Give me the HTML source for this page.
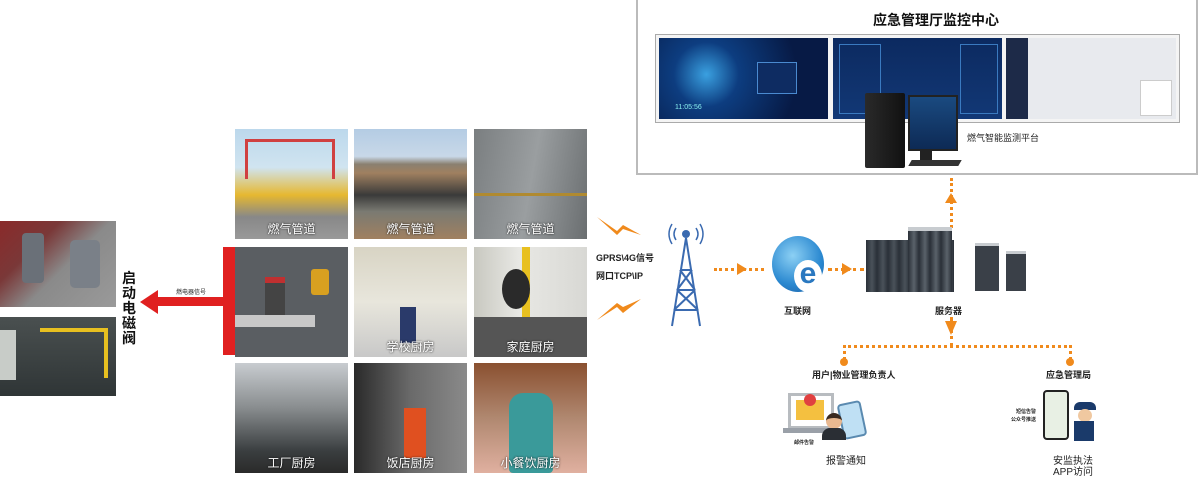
<!DOCTYPE html>
<html><head><meta charset="utf-8">
<style>
*{margin:0;padding:0;box-sizing:border-box}
body{width:1200px;height:473px;background:#fff;position:relative;overflow:hidden;font-family:"Liberation Sans","Noto Sans CJK SC",sans-serif}
.a{position:absolute}
.tile{position:absolute;width:113px;height:110px;overflow:hidden}
.cap{position:absolute;left:0;right:0;bottom:2px;text-align:center;color:#fff;font-size:12px;text-shadow:0 0 2px #000}
.t{position:absolute;font-size:10px;color:#222;white-space:nowrap}
.dot{position:absolute;border-top:3px dotted #f08a1c}
.vdot{position:absolute;border-left:3px dotted #f08a1c}
</style></head><body>

<!-- monitoring centre box -->
<div class="a" style="left:636px;top:0;width:562px;height:175px;border:2px solid #bbb;border-top:none"></div>
<div class="t" style="left:873px;top:10px;font-size:14px;font-weight:bold;color:#111">应急管理厅监控中心</div>
<div class="a" style="left:655px;top:34px;width:525px;height:89px;border:1px solid #aaa;background:#f4f4f4"></div>
<div class="a" style="left:659px;top:38px;width:169px;height:81px;background:radial-gradient(circle at 28% 45%,#3aa0e0 0,#0d3d80 25%,#071a45 70%)"></div>
<div class="a" style="left:757px;top:62px;width:40px;height:32px;border:1px solid #4a8ad0;background:#0e2c62"></div>
<div class="t" style="left:675px;top:104px;color:#8ee;font-size:7px">11:05:56</div>
<div class="a" style="left:833px;top:38px;width:169px;height:81px;background:linear-gradient(#0c2a60,#123876)"></div>
<div class="a" style="left:839px;top:44px;width:42px;height:70px;border:1px solid #3a7ac0"></div>
<div class="a" style="left:960px;top:44px;width:38px;height:70px;border:1px solid #3a7ac0"></div>
<div class="a" style="left:1006px;top:38px;width:170px;height:81px;background:#e8eaee"></div>
<div class="a" style="left:1006px;top:38px;width:22px;height:81px;background:#1d2a48"></div>
<div class="a" style="left:1140px;top:80px;width:32px;height:36px;background:#fff;border:1px solid #ccc"></div>
<!-- computer -->
<div class="a" style="left:908px;top:95px;width:50px;height:56px;background:linear-gradient(#1a4a80,#0d2a55);border:2px solid #222"></div>
<div class="a" style="left:920px;top:150px;width:12px;height:12px;background:#222"></div>
<div class="a" style="left:910px;top:160px;width:50px;height:6px;background:#333;transform:skewX(-30deg)"></div>
<div class="a" style="left:865px;top:93px;width:40px;height:75px;background:linear-gradient(90deg,#2a2a2a,#111);border-radius:2px"></div>
<div class="t" style="left:967px;top:131px;font-size:9px">燃气智能监测平台</div>

<!-- up arrow -->
<div class="vdot" style="left:950px;top:178px;height:50px"></div>
<div class="a" style="left:945px;top:193px;width:0;height:0;border-left:6px solid transparent;border-right:6px solid transparent;border-bottom:10px solid #f08a1c"></div>

<!-- left photos -->
<div class="a" style="left:0;top:221px;width:116px;height:86px;background:linear-gradient(135deg,#8a2a2a 0,#7a3838 30%,#8a8a8a 55%,#9a9a9a 100%)"></div>
<div class="a" style="left:22px;top:233px;width:22px;height:50px;background:#6a7078;border-radius:4px"></div>
<div class="a" style="left:70px;top:240px;width:30px;height:48px;background:#7a8088;border-radius:5px"></div>
<div class="a" style="left:0;top:317px;width:116px;height:79px;background:linear-gradient(#4a5050,#2f3536)"></div>
<div class="a" style="left:40px;top:328px;width:68px;height:50px;border:4px solid #e8c020;border-left:none;border-bottom:none"></div>
<div class="a" style="left:0;top:330px;width:16px;height:50px;background:#c8ccc8"></div>

<div class="a" style="left:122px;top:271px;width:16px;font-size:14px;font-weight:bold;line-height:15px;color:#111">启动电磁阀</div>
<!-- red arrow -->
<div class="a" style="left:155px;top:297px;width:70px;height:9px;background:#e02020"></div>
<div class="a" style="left:140px;top:290px;width:0;height:0;border-top:12px solid transparent;border-bottom:12px solid transparent;border-right:18px solid #e02020"></div>
<div class="t" style="left:176px;top:287px;font-size:6px">燃电器信号</div>
<div class="a" style="left:223px;top:247px;width:12px;height:108px;background:#e02020"></div>

<!-- tiles -->
<div class="tile" style="left:235px;top:129px;background:linear-gradient(#bcd8ec 0,#d0e4f0 35%,#e6b830 60%,#888 80%,#999 100%)">
 <div class="a" style="left:10px;top:10px;width:90px;height:40px;border:3px solid #d04040;border-bottom:none"></div>
 <div class="cap">燃气管道</div></div>
<div class="tile" style="left:354px;top:129px;background:linear-gradient(#b4cce4 0,#c8d8e8 25%,#8a8070 32%,#a08060 40%,#3a3a3a 60%,#7a7a72 75%,#a08060 100%)"><div class="cap">燃气管道</div></div>
<div class="tile" style="left:474px;top:129px;background:linear-gradient(100deg,#7a7e80,#9a9ea0 50%,#6a6e70)">
 <div class="a" style="left:0;top:64px;width:113px;height:3px;background:#b08a30"></div>
 <div class="cap">燃气管道</div></div>

<div class="tile" style="left:235px;top:247px;background:#5a5e62">
 <div class="a" style="left:0;top:68px;width:80px;height:12px;background:#c8c8c8"></div>
 <div class="a" style="left:30px;top:30px;width:20px;height:38px;background:#444;border-top:6px solid #c03030"></div>
 <div class="a" style="left:76px;top:22px;width:18px;height:26px;background:#d8a020;border-radius:3px"></div>
</div>
<div class="tile" style="left:354px;top:247px;background:linear-gradient(#d8d4c4,#e8e6dc 50%,#c8c8c8)">
 <div class="a" style="left:46px;top:60px;width:16px;height:36px;background:#2a3a6a"></div>
 <div class="cap">学校厨房</div></div>
<div class="tile" style="left:474px;top:247px;background:linear-gradient(90deg,#c8c8c0,#e8e8e4 40%,#d8d8d4)">
 <div class="a" style="left:48px;top:0;width:8px;height:90px;background:#e8c020"></div>
 <div class="a" style="left:28px;top:22px;width:28px;height:40px;background:#2a2a2a;border-radius:50%"></div>
 <div class="a" style="left:0;top:70px;width:113px;height:40px;background:#555"></div>
 <div class="cap">家庭厨房</div></div>

<div class="tile" style="left:235px;top:363px;background:linear-gradient(#c8ccd0,#8a8e90 40%,#3a3e40 80%,#2a2a2a)"><div class="cap">工厂厨房</div></div>
<div class="tile" style="left:354px;top:363px;background:linear-gradient(90deg,#2a2a2a,#6a6a6a 50%,#8a8a8a)">
 <div class="a" style="left:50px;top:45px;width:22px;height:50px;background:#e05020"></div>
 <div class="cap">饭店厨房</div></div>
<div class="tile" style="left:474px;top:363px;background:linear-gradient(#8a5030,#b08870 50%,#e0b0a0)">
 <div class="a" style="left:35px;top:30px;width:44px;height:80px;background:#3a9a9a;border-radius:14px 14px 4px 4px"></div>
 <div class="cap">小餐饮厨房</div></div>

<!-- lightning -->
<svg class="a" style="left:595px;top:215px" width="50" height="110" viewBox="0 0 50 110">
 <path d="M2 2 L22 16 L28 10 L46 20 L28 14 L22 20 Z" fill="#f08a1c"/>
 <path d="M2 105 L22 92 L28 98 L46 84 L28 92 L22 88 Z" fill="#f08a1c"/>
</svg>
<div class="t" style="left:596px;top:251px;font-size:9px;font-weight:bold">GPRS\4G信号</div>
<div class="t" style="left:596px;top:269px;font-size:9px;font-weight:bold">网口TCP\IP</div>

<!-- tower -->
<svg class="a" style="left:660px;top:220px" width="52" height="110" viewBox="0 0 52 110">
 <g stroke="#3a6ab0" stroke-width="2" fill="none">
 <path d="M26 18 L12 106 M26 18 L40 106 M17 70 L35 70 M20 50 L32 50 M14 90 L38 90 M17 70 L38 90 M35 70 L14 90 M20 50 L35 70 M32 50 L17 70"/>
 <path d="M16 8 Q12 14 16 20 M36 8 Q40 14 36 20 M12 4 Q6 14 12 24 M40 4 Q46 14 40 24" stroke-width="1.5"/>
 </g>
 <circle cx="26" cy="14" r="4" fill="#3a6ab0"/>
</svg>

<div class="dot" style="left:714px;top:268px;width:50px"></div>
<div class="a" style="left:737px;top:263px;border-top:6px solid transparent;border-bottom:6px solid transparent;border-left:10px solid #f08a1c"></div>
<!-- globe -->
<div class="a" style="left:772px;top:236px;width:52px;height:56px;border-radius:50%;background:radial-gradient(circle at 40% 35%,#8cd0f4,#2a88d0 60%,#1a5aa0)"></div>
<div class="a" style="left:794px;top:260px;width:28px;height:32px;border-radius:50%;background:#fff;color:#2a78c0;font-size:30px;font-weight:bold;line-height:28px;text-align:center">e</div>
<div class="t" style="left:784px;top:304px;font-size:9px;font-weight:bold">互联网</div>
<div class="dot" style="left:828px;top:268px;width:36px"></div>
<div class="a" style="left:842px;top:263px;border-top:6px solid transparent;border-bottom:6px solid transparent;border-left:10px solid #f08a1c"></div>

<!-- servers -->
<div class="a" style="left:866px;top:240px;width:88px;height:52px;background:repeating-linear-gradient(90deg,#2a3038 0,#4a525a 6px,#2a3038 11px)"></div>
<div class="a" style="left:908px;top:227px;width:44px;height:65px;background:repeating-linear-gradient(90deg,#2a3038 0,#5a626a 6px,#2a3038 11px);border-top:4px solid #c8ccd0"></div>
<div class="a" style="left:975px;top:243px;width:24px;height:48px;background:#3a4048;border-top:3px solid #c8ccd0"></div>
<div class="a" style="left:1006px;top:251px;width:20px;height:40px;background:#3a4048;border-top:3px solid #c8ccd0"></div>
<div class="t" style="left:935px;top:304px;font-size:9px;font-weight:bold">服务器</div>

<div class="vdot" style="left:950px;top:317px;height:30px"></div>
<div class="a" style="left:945px;top:321px;border-left:6px solid transparent;border-right:6px solid transparent;border-top:14px solid #f08a1c"></div>
<div class="dot" style="left:843px;top:345px;width:229px"></div>
<div class="vdot" style="left:843px;top:345px;height:15px"></div>
<div class="vdot" style="left:1069px;top:345px;height:15px"></div>
<div class="a" style="left:840px;top:358px;width:8px;height:8px;border-radius:50%;background:#f08a1c"></div>
<div class="a" style="left:1066px;top:358px;width:8px;height:8px;border-radius:50%;background:#f08a1c"></div>
<div class="t" style="left:812px;top:368px;font-size:9px;font-weight:bold">用户|物业管理负责人</div>
<div class="t" style="left:1046px;top:368px;font-size:9px;font-weight:bold">应急管理局</div>

<!-- laptop icon -->
<div class="a" style="left:788px;top:393px;width:46px;height:36px;border:3px solid #b8bcc0;background:#fff"></div>
<div class="a" style="left:783px;top:428px;width:58px;height:5px;background:#9aa0a8"></div>
<div class="a" style="left:796px;top:400px;width:28px;height:20px;background:#f4c040"></div>
<div class="a" style="left:804px;top:394px;width:12px;height:12px;border-radius:50%;background:#e04040"></div>
<div class="a" style="left:840px;top:402px;width:24px;height:36px;border-radius:4px;border:2px solid #5a8ab0;background:#bfe0f4;transform:rotate(-12deg)"></div>
<div class="a" style="left:826px;top:413px;width:16px;height:16px;border-radius:50%;background:#e8b890;border-top:5px solid #3a2a20"></div>
<div class="a" style="left:822px;top:428px;width:24px;height:12px;border-radius:8px 8px 0 0;background:#2a2e34"></div>
<div class="t" style="left:794px;top:439px;font-size:5px;font-weight:bold">邮件告警</div>
<div class="t" style="left:826px;top:452px;font-size:10px">报警通知</div>

<!-- phone & police -->
<div class="a" style="left:1043px;top:390px;width:26px;height:50px;border:2px solid #222;border-radius:4px;background:#e8f0e4"></div>
<div class="a" style="left:1074px;top:402px;width:22px;height:8px;border-radius:6px 6px 0 0;background:#1a3a6a"></div>
<div class="a" style="left:1078px;top:409px;width:14px;height:13px;border-radius:50%;background:#f0c8a0"></div>
<div class="a" style="left:1074px;top:421px;width:20px;height:20px;background:#1a3a6a"></div>
<div class="t" style="left:1016px;top:408px;font-size:5px;font-weight:bold">短信告警</div>
<div class="t" style="left:1011px;top:416px;font-size:5px;font-weight:bold">公众号推送</div>
<div class="t" style="left:1053px;top:452px;font-size:10px">安监执法</div>
<div class="t" style="left:1053px;top:463px;font-size:10px">APP访问</div>
</body></html>
